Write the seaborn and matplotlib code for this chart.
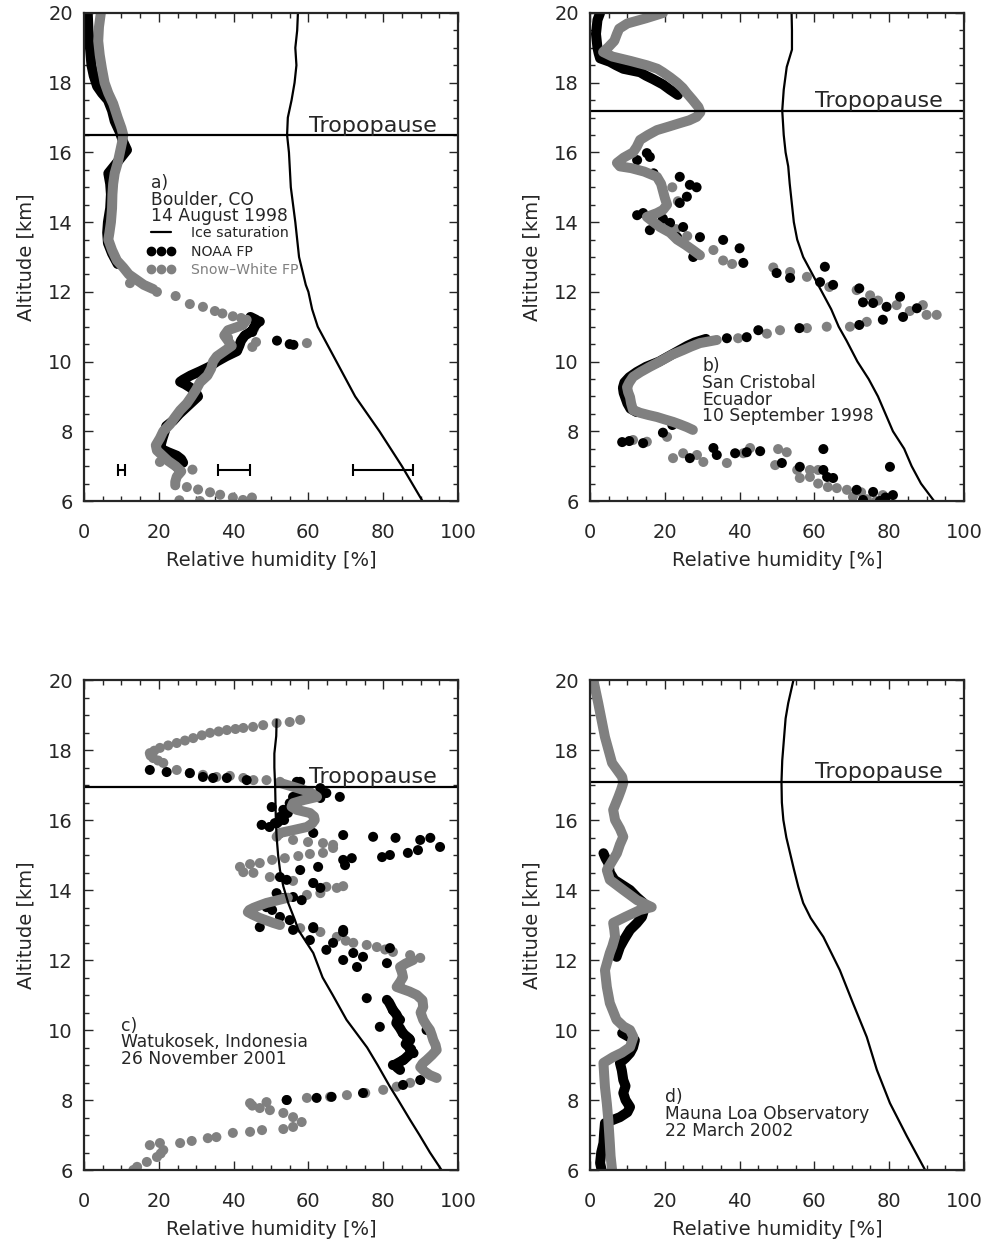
import matplotlib
matplotlib.use("Agg")
import matplotlib.pyplot as plt
from matplotlib.lines import Line2D
from matplotlib.ticker import MultipleLocator
import seaborn as sns

sns.set_style("ticks")
plt.rcParams['font.family'] = ['DejaVu Sans']

GREY = '#808080'

# ---------------- panel a : Boulder ----------------
a_ice_alt = [6, 7, 8, 9, 10, 11, 11.5, 12, 12.2, 13, 14, 15, 16, 16.5, 17, 17.5, 18, 18.5, 19, 19.5, 20]
a_ice_rh = [90.5, 85, 79, 72.5, 67.5, 62.5, 61, 60, 59.3, 57.5, 56.5, 55.3, 54.8, 54.3, 54.5, 55.5, 56.3, 56.8, 56.5, 57, 57.2]
a_trop = 16.5

a_sw_alt = [20.0, 19.6, 19.2, 18.8, 18.4, 18.0, 17.7, 17.4, 17.0, 16.7, 16.5, 16.3, 16.0, 15.7, 15.4, 15.1,
            14.8, 14.4, 14.0, 13.7, 13.5, 13.2, 12.9, 12.7, 12.5, 12.35, 12.2, 12.08]
a_sw_rh = [4.5, 4.0, 3.8, 4.2, 4.8, 5.5, 6.5, 7.8, 9.0, 10.0, 10.5, 10.2, 9.6, 9.0, 8.2, 7.8,
           7.6, 7.5, 7.2, 6.8, 6.5, 7.5, 8.8, 10.5, 12.0, 14.0, 16.0, 18.5]
a_sw2_alt = [11.2, 11.05, 10.9, 10.75, 10.6, 10.45, 10.3, 10.15, 10.0, 9.8, 9.6, 9.4, 9.2, 9.0, 8.8, 8.6,
             8.4, 8.2, 8.0, 7.8, 7.6, 7.45, 7.3, 7.15, 7.0, 6.85, 6.7, 6.55, 6.45]
a_sw2_rh = [43.5, 42.5, 38.5, 37.5, 38.5, 39.5, 37.5, 35.5, 34.5, 34.0, 33.0, 31.0, 30.0, 28.8, 27.5, 25.7,
            24.3, 23.0, 21.2, 20.3, 19.2, 19.5, 21.0, 22.5, 24.5, 26.0, 24.8, 24.4, 24.4]
a_swdot_alt = [12.25, 12.0, 11.88, 11.65, 11.57, 11.45, 11.38, 11.3, 11.25, 10.56, 10.53, 10.42, 10.95, 10.68,
               7.12, 6.98, 6.9, 6.4, 6.33, 6.25, 6.18, 6.1, 6.03, 6.1, 6.02, 6.0]
a_swdot_rh = [12.3, 19.5, 24.5, 28.3, 31.8, 35.0, 37.0, 39.8, 42.0, 46.0, 59.6, 45.0, 45.5, 38.5,
              20.3, 24.8, 29.0, 27.5, 30.5, 33.7, 36.4, 39.8, 42.5, 44.9, 25.5, 31.0]
a_noaa_alt = [20.0, 19.5, 19.0, 18.5, 18.2, 17.9, 17.7, 17.5, 17.2, 16.9, 16.6, 16.3, 16.07, 15.8, 15.6, 15.4,
              15.1, 14.8, 14.4, 14.0, 13.7, 13.4, 13.1, 12.8]
a_noaa_rh = [1.0, 1.2, 1.6, 2.0, 2.6, 3.5, 4.8, 6.4, 7.5, 8.2, 9.5, 10.5, 11.5, 9.5, 8.0, 6.5,
             7.0, 7.2, 7.0, 6.4, 6.2, 6.4, 7.5, 9.0]
a_noaa2_alt = [11.28, 11.2, 11.12, 11.0, 10.88, 10.75, 10.6, 10.45, 10.3, 10.15, 10.0, 9.85, 9.72, 9.6, 9.48,
               9.42, 9.35, 9.25, 9.1, 9.0, 8.85, 8.7, 8.5, 8.3, 8.15, 8.0, 7.8, 7.6, 7.5, 7.4, 7.3, 7.2, 7.1]
a_noaa2_rh = [44.5, 46.0, 46.5, 45.5, 45.0, 43.0, 42.0, 41.5, 40.9, 38.0, 35.5, 33.5, 31.0, 28.5, 26.5,
              25.7, 27.0, 28.5, 30.0, 30.5, 29.0, 27.5, 25.5, 23.8, 22.0, 21.6, 21.0, 20.5, 20.5, 22.5, 24.8, 26.0, 26.5]
a_noaadot_alt = [10.6, 10.48, 10.5, 10.85, 11.15, 10.33]
a_noaadot_rh = [51.6, 56.0, 55.0, 45.0, 47.0, 40.9]
a_err_rh = [10, 40, 80]
a_err_half = [1.0, 4.3, 8.0]
a_err_alt = [6.9, 6.9, 6.9]

# ---------------- panel b : San Cristobal ----------------
b_ice_alt = [6, 6.5, 7, 7.5, 8, 8.5, 9, 9.5, 10, 10.6, 11, 11.5, 12, 12.5, 13, 13.5, 14, 14.6, 15.1, 15.6,
             16, 16.5, 17.2, 17.8, 18.45, 18.95, 19.5, 20]
b_ice_rh = [92, 88.5, 86, 84, 81, 79, 77, 74.5, 71.5, 68.6, 66.5, 64.5, 62, 59.5, 57, 55.4, 54.5, 53.9, 53.4, 53,
            52.3, 51.8, 51.4, 51.8, 52.6, 54.0, 54, 53.9]
b_trop = 17.2

b_sw_alt = [20.0, 19.85, 19.7, 19.55, 19.4, 19.2, 19.03, 18.88, 18.75, 18.62, 18.5, 18.4, 18.3, 18.15, 18.0,
            17.85, 17.7, 17.5, 17.3, 17.15, 17.02, 16.92, 16.84, 16.74, 16.64, 16.5, 16.36, 16.16, 16.0, 15.85,
            15.7, 15.6, 15.55, 15.45, 15.3, 15.1, 14.9, 14.7, 14.5, 14.35, 14.26, 14.15, 14.0, 13.86, 13.7, 13.5,
            13.35, 13.2, 13.05]
b_sw_rh = [19.5, 15.0, 10.0, 7.8, 7.2, 6.5, 5.0, 3.5, 6.0, 11.0, 15.2, 18.0, 19.5, 21.5, 23.3,
           24.8, 25.9, 27.5, 29.0, 29.5, 28.5, 26.5, 24.0, 21.0, 17.9, 15.5, 13.4, 12.5, 11.5, 9.0,
           7.2, 8.0, 11.0, 14.5, 17.9, 19.0, 19.5, 20.0, 20.6, 19.5, 17.9, 15.2, 17.0, 18.7, 21.4, 23.3,
           25.5, 27.5, 29.4]
b_sw2_alt = [10.62, 10.53, 10.43, 10.33, 10.2, 10.05, 9.95, 9.85, 9.7, 9.56, 9.4, 9.27, 9.12, 8.98, 8.8,
             8.61, 8.53, 8.47, 8.41, 8.34, 8.27, 8.2, 8.12, 8.04]
b_sw2_rh = [33.9, 29.4, 27.0, 24.9, 22.0, 19.5, 17.8, 16.0, 13.5, 11.5, 10.5, 9.9, 10.2, 10.7, 11.0,
            11.5, 13.4, 15.5, 17.9, 20.0, 22.2, 24.0, 25.9, 27.5]
b_swdot_alt = [15.0, 14.6, 14.0, 13.8, 13.6,
               13.2, 12.9, 12.8, 12.7, 12.57, 12.43, 12.14, 12.05, 11.9, 11.75, 11.62, 11.45, 11.34, 11.34, 11.62,
               11.0, 11.14, 11.0, 10.96, 10.9, 10.8, 10.67,
               7.84, 7.7, 7.75, 7.23, 7.37, 7.32, 7.12, 7.09, 7.37, 7.52, 7.49, 7.4, 7.03, 6.89, 6.89, 6.89,
               6.66, 6.69, 6.4, 6.37, 6.32, 6.17, 6.12, 6.05, 6.0, 6.5, 6.25]
b_swdot_rh = [22.0, 23.5, 19.0, 23.0, 26.0,
              33.0, 35.6, 38.0, 49.0, 53.5, 58.0, 64.0, 71.3, 74.9, 77.0, 82.0, 85.5, 90.0, 92.7, 89.0,
              69.5, 74.0, 63.3, 58.0, 50.8, 47.3, 39.6,
              20.6, 15.2, 11.5, 22.2, 24.9, 28.6, 30.3, 36.6, 41.0, 42.8, 50.3, 52.6, 49.5, 55.4, 58.8, 61.0,
              56.1, 58.8, 63.6, 66.0, 68.7, 78.3, 70.3, 74.0, 76.5, 61.0, 72.5]
b_noaa_alt = [20.0, 19.8, 19.6, 19.4, 19.2, 19.0, 18.85, 18.7, 18.6, 18.5, 18.4, 18.3, 18.2, 18.1, 17.95,
              17.8, 17.65]
b_noaa_rh = [2.7, 2.0, 1.8, 1.6, 1.8, 2.0, 2.3, 2.7, 5.3, 7.0, 8.9, 13.4, 15.0, 16.9, 19.5, 21.4, 23.5]
b_noaa2_alt = [10.65, 10.55, 10.45, 10.3, 10.15, 10.0, 9.85, 9.7, 9.55, 9.4, 9.25, 9.1, 8.95, 8.8, 8.65, 8.55]
b_noaa2_rh = [31.0, 28.0, 26.0, 23.5, 21.0, 18.5, 15.0, 12.5, 10.5, 9.2, 8.8, 9.0, 9.5, 10.0, 10.8, 12.5]
b_noaadot_alt = [15.98, 15.87, 15.78, 15.4, 15.3, 15.07, 15.0, 14.73, 14.55, 14.2, 14.26, 13.77, 14.1, 13.98,
                 13.86, 13.57, 13.57, 13.49, 13.25, 13.0, 12.83, 12.54, 12.4, 12.72, 12.28, 12.2, 12.1, 11.7,
                 11.68, 11.57, 11.86, 11.28, 11.53, 11.2, 11.05, 10.96, 10.9, 10.7, 10.67,
                 8.18, 7.96, 7.66, 7.69, 7.72, 7.23, 7.52, 7.32, 7.37, 7.4, 7.43, 7.09, 7.49, 6.98, 6.89, 6.69,
                 6.66, 6.32, 6.26, 6.17, 6.98, 6.03, 6.0, 6.1]
b_noaadot_rh = [15.2, 16.0, 12.6, 17.0, 24.0, 26.7, 28.5, 25.9, 24.0, 12.6, 14.2, 16.0, 19.5, 21.4,
                24.9, 23.3, 29.4, 35.6, 40.0, 27.6, 41.0, 49.9, 53.5, 62.8, 61.5, 65.0, 72.0, 73.0,
                75.7, 79.3, 82.9, 83.7, 87.4, 78.3, 72.0, 56.0, 45.0, 41.9, 36.6,
                22.0, 19.5, 14.2, 8.6, 10.5, 26.7, 33.0, 33.9, 38.8, 41.9, 45.5, 51.3, 62.4, 56.1, 62.4, 63.4,
                65.0, 71.3, 75.7, 81.0, 80.2, 73.0, 77.5, 79.0]

# ---------------- panel c : Watukosek ----------------
c_ice_alt = [6.0, 6.5, 7.0, 7.43, 8.0, 8.38, 9.0, 9.5, 10.29, 11.0, 11.5, 12.2, 12.86, 13.14, 13.63, 14.1,
             14.57, 15.0, 15.52, 16.0, 16.5, 17.0, 17.5, 17.9, 18.4, 18.86]
c_ice_rh = [95.6, 92.5, 89.7, 87.2, 84, 81.8, 78.5, 75.7, 70.2, 66.5, 63.8, 61.3, 57.3, 56.4, 54.6, 53.3,
            52.4, 51.9, 51.5, 51.3, 51.2, 51.1, 50.9, 50.9, 51.4, 51.5]
c_trop = 16.95

c_sw_alt = [17.06, 16.95, 16.8, 16.66, 16.57, 16.48, 16.38, 16.29, 16.2, 16.1, 16.0, 15.9, 15.8, 15.71, 15.63, 15.52]
c_sw_rh = [52.4, 55.9, 60.4, 62.3, 58.7, 55.9, 55.5, 56.9, 60.4, 61.5, 61.7, 61.0, 59.6, 55.9, 52.4, 51.5]
c_sw2_alt = [13.78, 13.7, 13.63, 13.56, 13.49, 13.43, 13.37, 13.3, 13.2, 13.13, 13.06, 13.0]
c_sw2_rh = [54.5, 51.5, 48.8, 47.0, 45.3, 44.2, 43.8, 45.0, 47.0, 48.8, 50.6, 52.4]
c_sw3_alt = [12.0, 11.9, 11.8, 11.65, 11.51, 11.37, 11.23, 11.1, 11.0, 10.85, 10.66, 10.5, 10.29, 10.15, 10.0,
             9.85, 9.71, 9.57, 9.43, 9.28, 9.14, 9.04, 8.94, 8.82, 8.71, 8.63]
c_sw3_rh = [88.0, 86.0, 84.5, 85.0, 85.3, 84.5, 83.6, 87.0, 89.0, 90.5, 90.7, 90.0, 90.7, 91.5, 92.5,
            93.0, 93.4, 94.0, 94.3, 93.0, 91.6, 90.5, 89.9, 91.0, 92.5, 94.3]
c_swdot_alt = [18.86, 18.8, 18.77, 18.71, 18.66, 18.63, 18.6, 18.57, 18.53, 18.49, 18.42, 18.34, 18.27, 18.2,
               18.13, 18.06, 17.98, 17.91, 17.84, 17.77, 17.7, 17.63, 17.43, 17.34, 17.29, 17.23, 17.26, 17.2,
               17.14, 17.14, 17.09,
               15.43, 15.37, 15.34, 15.29, 15.2, 15.06, 15.03, 14.97, 14.91, 14.86, 14.77, 14.74, 14.66, 14.51,
               14.49, 14.37, 14.26, 14.2, 14.09, 14.06, 14.11, 13.91, 13.86,
               12.91, 12.8, 12.66, 12.55, 12.49, 12.43, 12.37, 12.3, 12.23, 12.14, 12.06,
               8.49, 8.38, 8.29, 8.2, 8.14, 8.09, 8.06, 8.0, 7.94, 7.91, 7.84, 7.77, 7.71, 7.63, 7.51, 7.37,
               7.23, 7.17, 7.14, 7.09, 7.06, 6.94, 6.91, 6.83, 6.77, 6.77, 6.71, 6.57, 6.47, 6.37, 6.23, 6.09, 6.0]
c_swdot_rh = [57.8, 55.0, 51.5, 47.9, 45.2, 42.6, 40.5, 38.2, 36.0, 33.7, 31.5, 29.2, 27.0, 24.8,
              22.5, 20.3, 18.8, 17.6, 17.8, 18.5, 19.8, 21.2, 24.8, 28.3, 31.8, 35.4, 39.0, 42.6,
              45.3, 48.8, 52.4,
              55.9, 59.9, 63.9, 66.6, 66.6, 63.9, 60.4, 57.3, 53.7, 50.3, 47.0, 44.4, 41.7, 42.6,
              45.3, 49.7, 55.9, 61.3, 64.8, 67.6, 69.3, 63.2, 59.6,
              57.8, 63.2, 67.6, 70.0, 72.0, 75.6, 78.3, 80.5, 82.6, 87.2, 89.9,
              87.2, 83.6, 80.0, 75.2, 70.3, 65.8, 59.6, 54.2, 48.8, 44.4, 45.0, 47.0, 49.7, 53.3, 55.9, 58.2,
              55.9, 53.3, 47.6, 44.4, 39.8, 35.4, 33.1, 28.8, 25.7, 20.3, 17.6, 21.2, 20.5, 19.5, 16.8, 14.2, 13.2]
c_noaa_alt = [10.8, 10.7, 10.57, 10.45, 10.35, 10.2, 10.05, 9.9, 9.75, 9.6, 9.45, 9.3, 9.15, 9.0, 8.9]
c_noaa_rh = [81.5, 82.0, 82.6, 83.5, 84.0, 83.5, 84.5, 85.3, 87.0, 86.0, 87.5, 87.0, 85.5, 83.0, 84.0]
c_noaa2_alt = [16.75, 16.6, 16.45, 16.3, 16.15, 16.0, 15.9]
c_noaa2_rh = [57.5, 56.5, 55.5, 54.5, 53.5, 52.5, 51.5]
c_noaadot_alt = [17.43, 17.37, 17.34, 17.23, 17.2, 17.2, 17.14, 17.09, 17.09, 16.91, 16.77, 16.63, 16.66, 16.66,
                 16.48, 16.29, 16.37, 16.09, 15.91, 15.86, 15.8, 16.2, 16.0, 15.63, 15.57, 15.52, 15.49, 15.43,
                 15.49, 15.23, 14.94, 15.0, 15.06, 15.14, 14.86, 14.91, 14.71, 14.57, 14.66, 14.37, 14.29, 14.2,
                 14.06, 13.91, 13.77, 13.8, 13.71, 13.51, 13.43, 13.23, 13.14, 12.94, 12.94, 12.86,
                 12.86, 12.57, 12.91, 12.8, 12.49, 12.29, 12.0, 12.2, 12.09, 11.8, 12.34, 11.91, 10.91, 10.09,
                 10.86, 10.57, 10.29, 9.91, 9.71, 10.0, 9.0, 9.14, 9.34, 8.86, 8.57, 8.43, 8.2, 8.09, 8.06, 8.0]
c_noaadot_rh = [17.6, 22.1, 28.3, 31.8, 34.5, 38.2, 43.5, 56.9, 57.8, 63.2, 64.8, 63.2, 68.4, 55.9,
                55.0, 53.3, 50.2, 52.4, 51.0, 47.5, 49.6, 54.5, 53.5, 61.3, 69.3, 77.3, 83.3, 89.9,
                92.6, 95.2, 79.7, 81.8, 86.6, 89.3, 69.3, 71.6, 69.8, 57.8, 62.6, 52.4, 54.2, 61.3,
                63.2, 51.5, 53.3, 55.9, 58.2, 48.8, 50.3, 52.4, 55.0, 47.0, 61.3, 69.3,
                55.9, 60.4, 61.3, 69.3, 66.6, 64.8, 69.3, 72.0, 74.6, 73.0, 81.8, 81.0, 75.6, 79.1,
                81.0, 82.6, 84.5, 85.3, 87.2, 91.6, 82.6, 85.3, 88.1, 84.5, 89.9, 85.3, 74.6, 66.2, 62.2, 54.2]

# ---------------- panel d : Mauna Loa ----------------
d_ice_alt = [6.0, 6.97, 7.91, 8.86, 9.8, 10.77, 11.71, 12.66, 13.2, 13.63, 14.09, 14.6, 15.05, 15.5, 16.0,
             16.5, 17.09, 17.7, 18.37, 18.9, 19.34, 20.0]
d_ice_rh = [89.6, 84.7, 80.2, 76.7, 74.0, 70.3, 66.8, 62.4, 59.0, 57.0, 55.7, 54.5, 53.5, 52.5, 51.7,
            51.3, 51.2, 51.4, 51.9, 52.3, 53.0, 54.4]
d_trop = 17.1

d_sw_alt = [20.0, 19.34, 18.37, 17.63, 17.23, 17.06, 16.86, 16.66, 16.29, 16.0, 15.75, 15.52, 15.3, 15.05, 14.8,
            14.57, 14.29, 14.0, 13.71, 13.51, 13.43, 13.23, 13.06, 12.86, 12.66, 12.4, 12.2, 11.71, 11.23, 10.77,
            10.29, 10.1, 10.0, 9.8, 9.51, 9.35, 9.23, 9.06, 8.7, 8.37, 7.9, 7.43, 6.77, 6.4, 6.0]
d_sw_rh = [0.9, 2.2, 4.0, 5.9, 8.6, 8.9, 8.3, 7.6, 6.2, 6.7, 8.0, 8.9, 8.0, 7.2, 5.8,
           4.5, 5.3, 8.9, 12.6, 16.5, 13.4, 9.4, 6.2, 6.5, 6.7, 6.0, 5.3, 4.0, 4.5, 5.3,
           7.1, 9.0, 10.7, 11.6, 10.7, 8.5, 6.2, 3.6, 3.8, 4.0, 4.5, 4.9, 5.3, 5.5, 5.9]
d_noaa_alt = [15.05, 14.9, 14.77, 14.5, 14.29, 14.0, 13.8, 13.63, 13.45, 13.23, 13.05, 12.86, 12.6, 12.37, 12.09]
d_noaa_rh = [3.6, 4.2, 4.9, 5.3, 6.5, 10.7, 12.5, 14.3, 14.5, 13.9, 12.5, 10.7, 9.2, 8.0, 7.1]
d_noaa2_alt = [9.91, 9.71, 9.5, 9.34, 9.2, 9.06, 8.85, 8.57, 8.4, 8.2, 8.0, 7.8, 7.65, 7.51, 7.34, 7.1, 6.77,
               6.5, 6.2, 6.0]
d_noaa2_rh = [8.6, 12.0, 11.5, 10.7, 9.5, 8.0, 8.5, 8.9, 9.5, 8.9, 9.5, 10.7, 10.0, 8.0, 4.0, 3.8, 3.6,
              3.0, 2.7, 3.1]

DOT_S = 52
TRACE_LW = 7.2
TXT = 12.3
LSP = 0.9


def trace(ax, alt, rh, color):
    sns.lineplot(x=rh, y=alt, ax=ax, sort=False, estimator=None, color=color, lw=TRACE_LW,
                 solid_capstyle='round', solid_joinstyle='round')


def dots(ax, alt, rh, color):
    sns.scatterplot(x=rh, y=alt, ax=ax, color=color, s=DOT_S, linewidth=0, edgecolor='none')


def setup(ax, ice_alt, ice_rh, trop):
    sns.lineplot(x=ice_rh, y=ice_alt, ax=ax, sort=False, estimator=None, color='k', lw=1.6)
    ax.axhline(trop, color='k', lw=1.6)
    ax.text(94.3, trop + 0.1, "Tropopause", ha='right', va='baseline', fontsize=16)
    ax.set_xlim(0, 100)
    ax.set_ylim(6, 20)
    ax.xaxis.set_major_locator(MultipleLocator(20))
    ax.xaxis.set_minor_locator(MultipleLocator(5))
    ax.yaxis.set_major_locator(MultipleLocator(2))
    ax.yaxis.set_minor_locator(MultipleLocator(0.5))
    ax.tick_params(which='both', direction='in', top=True, right=True, width=1.0)
    ax.tick_params(which='major', length=6.5, labelsize=14)
    ax.tick_params(axis='x', which='major', pad=16)
    ax.tick_params(axis='y', which='major', pad=8)
    ax.tick_params(which='minor', length=3.3)
    for sp in ax.spines.values():
        sp.set_linewidth(1.6)
    ax.set_xlabel("Relative humidity [%]", fontsize=14, labelpad=6)
    ax.set_ylabel("Altitude [km]", fontsize=14, labelpad=9)


fig = plt.figure(figsize=(9.87, 12.41), dpi=100)
W, H = 374 / 987, 488 / 1241
ax_a = fig.add_axes([84 / 987, 1 - 501 / 1241, W, H])
ax_b = fig.add_axes([590 / 987, 1 - 501 / 1241, W, H])
ax_c = fig.add_axes([84 / 987, 1 - 1170 / 1241, W, 490 / 1241])
ax_d = fig.add_axes([590 / 987, 1 - 1170 / 1241, W, 490 / 1241])

# panel a
trace(ax_a, a_noaa_alt, a_noaa_rh, 'k')
trace(ax_a, a_noaa2_alt, a_noaa2_rh, 'k')
dots(ax_a, a_noaadot_alt, a_noaadot_rh, 'k')
trace(ax_a, a_sw_alt, a_sw_rh, GREY)
trace(ax_a, a_sw2_alt, a_sw2_rh, GREY)
dots(ax_a, a_swdot_alt, a_swdot_rh, GREY)
ax_a.errorbar(a_err_rh, a_err_alt, xerr=a_err_half, fmt='none', ecolor='k', elinewidth=1.5, capsize=4, capthick=1.5)
setup(ax_a, a_ice_alt, a_ice_rh, a_trop)
ax_a.text(17.8, 15.38, "a)\nBoulder, CO\n14 August 1998", ha='left', va='top', fontsize=TXT, linespacing=LSP)
handles = [Line2D([], [], color='k', lw=1.6),
           Line2D([], [], ls='none', marker='o', color='k', markersize=6),
           Line2D([], [], ls='none', marker='o', color=GREY, markersize=6)]
leg = ax_a.legend(handles, ["Ice saturation", "NOAA FP", "Snow\u2013White FP"], loc='upper left',
                  bbox_to_anchor=(0.168, 0.563), frameon=False, fontsize=10.2, numpoints=3, handlelength=2.0,
                  handletextpad=1.1, borderpad=0, borderaxespad=0, labelspacing=0.3)
leg.get_texts()[2].set_color(GREY)

# panel b
trace(ax_b, b_noaa_alt, b_noaa_rh, 'k')
trace(ax_b, b_noaa2_alt, b_noaa2_rh, 'k')
trace(ax_b, b_sw_alt, b_sw_rh, GREY)
trace(ax_b, b_sw2_alt, b_sw2_rh, GREY)
dots(ax_b, b_swdot_alt, b_swdot_rh, GREY)
dots(ax_b, b_noaadot_alt, b_noaadot_rh, 'k')
setup(ax_b, b_ice_alt, b_ice_rh, b_trop)
ax_b.text(30, 10.12, "b)\nSan Cristobal\nEcuador\n10 September 1998", ha='left', va='top',
          fontsize=TXT, linespacing=LSP)

# panel c
trace(ax_c, c_noaa_alt, c_noaa_rh, 'k')
trace(ax_c, c_noaa2_alt, c_noaa2_rh, 'k')
trace(ax_c, c_sw_alt, c_sw_rh, GREY)
trace(ax_c, c_sw2_alt, c_sw2_rh, GREY)
trace(ax_c, c_sw3_alt, c_sw3_rh, GREY)
dots(ax_c, c_swdot_alt, c_swdot_rh, GREY)
dots(ax_c, c_noaadot_alt, c_noaadot_rh, 'k')
setup(ax_c, c_ice_alt, c_ice_rh, c_trop)
ax_c.text(10, 10.38, "c)\nWatukosek, Indonesia\n26 November 2001", ha='left', va='top',
          fontsize=TXT, linespacing=LSP)

# panel d
trace(ax_d, d_noaa_alt, d_noaa_rh, 'k')
trace(ax_d, d_noaa2_alt, d_noaa2_rh, 'k')
trace(ax_d, d_sw_alt, d_sw_rh, GREY)
setup(ax_d, d_ice_alt, d_ice_rh, d_trop)
ax_d.text(20, 8.33, "d)\nMauna Loa Observatory\n22 March 2002", ha='left', va='top',
          fontsize=TXT, linespacing=LSP)

fig.savefig("out.png", dpi=100)
